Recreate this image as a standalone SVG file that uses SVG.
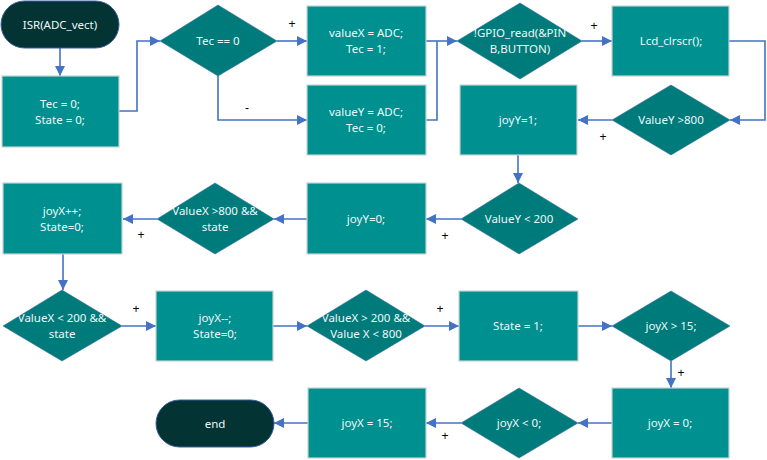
<svg xmlns="http://www.w3.org/2000/svg" width="767" height="460" viewBox="0 0 767 460">
  <defs>
    <marker id="arrow" viewBox="0 0 10 10" refX="10" refY="5" markerWidth="10" markerHeight="11" orient="auto" markerUnits="userSpaceOnUse">
      <path d="M0,0 L10,5 L0,10 z" fill="#4472C4"/>
    </marker>
    <style>
      .term { fill: #033333; stroke: #3b5fa0; stroke-width: 1; }
      .box { fill: #009090; stroke: #c6d3d3; stroke-width: 1.2; }
      .dec { fill: #007B7B; stroke: #3a6fa0; stroke-width: 0.6; }
      .t { font-family: "Noto Sans", "Open Sans", "DejaVu Sans", sans-serif; font-size: 11.5px; fill: #eef8f8; text-anchor: middle; }
      .lbl { font-family: "Liberation Sans", Arial, sans-serif; font-size: 12px; fill: #000; text-anchor: middle; }
      .conn path { fill: none; stroke: #4472C4; stroke-width: 1.6; marker-end: url(#arrow); }
      .conn path.join { marker-end: none; }
    </style>
  </defs>
  <rect width="767" height="460" fill="#ffffff"/>

  <!-- connectors -->
  <g id="connectors" class="conn">
    <path d="M60,48 V76"/>
    <path d="M119,111 H137 V41 H160"/>
    <path d="M277,41 H307"/>
    <path d="M218,76 V120 H307"/>
    <path d="M426,41 H457"/>
    <path class="join" d="M426,120 H437 V41"/>
    <path d="M582,41 H612"/>
    <path d="M729,41 H765 V120 H730"/>
    <path d="M612,120 H578"/>
    <path d="M518,155 V183"/>
    <path d="M461,219 H426"/>
    <path d="M307,219 H274"/>
    <path d="M157,219 H123"/>
    <path d="M63,254 V290"/>
    <path d="M122,326 H156"/>
    <path d="M273,326 H307"/>
    <path d="M425,326 H459"/>
    <path d="M578,326 H612"/>
    <path d="M671,361 V388"/>
    <path d="M612,423 H578"/>
    <path d="M461,423 H426"/>
    <path d="M308,423 H274"/>
  </g>

  <!-- branch labels -->
  <g id="labels">
    <text class="lbl" x="292" y="28">+</text>
    <text class="lbl" x="247" y="112">-</text>
    <text class="lbl" x="594" y="30">+</text>
    <text class="lbl" x="603" y="141">+</text>
    <text class="lbl" x="445" y="240">+</text>
    <text class="lbl" x="141" y="239">+</text>
    <text class="lbl" x="136" y="313">+</text>
    <text class="lbl" x="440" y="313">+</text>
    <text class="lbl" x="681" y="377">+</text>
    <text class="lbl" x="445" y="440">+</text>
  </g>

  <g id="isr">
    <rect class="term" x="1" y="1" width="118" height="47" rx="23.5"/>
    <text class="t" x="60" y="29">ISR(ADC_vect)</text>
  </g>

  <g id="init">
    <rect class="box" x="2" y="76" width="117" height="71"/>
    <text class="t" x="60" y="108">Tec = 0;</text>
    <text class="t" x="60" y="124">State = 0;</text>
  </g>

  <g id="tec-check">
    <polygon class="dec" points="160,41 218,5 277,41 218,76"/>
    <text class="t" x="218" y="45">Tec == 0</text>
  </g>

  <g id="read-x">
    <rect class="box" x="307" y="6" width="119" height="70"/>
    <text class="t" x="366" y="37">valueX = ADC;</text>
    <text class="t" x="366" y="53">Tec = 1;</text>
  </g>

  <g id="read-y">
    <rect class="box" x="307" y="85" width="119" height="70"/>
    <text class="t" x="366" y="116">valueY = ADC;</text>
    <text class="t" x="366" y="132">Tec = 0;</text>
  </g>

  <g id="button-check">
    <polygon class="dec" points="457,41 520,3 582,41 520,79"/>
    <text class="t" x="520" y="37">!GPIO_read(&amp;PIN</text>
    <text class="t" x="520" y="53">B,BUTTON)</text>
  </g>

  <g id="clear">
    <rect class="box" x="612" y="6" width="117" height="70"/>
    <text class="t" x="671" y="45">Lcd_clrscr();</text>
  </g>

  <g id="y-high">
    <polygon class="dec" points="612,120 671,85 730,120 671,155"/>
    <text class="t" x="671" y="124">ValueY &gt;800</text>
  </g>

  <g id="joy-y-one">
    <rect class="box" x="460" y="85" width="117" height="70"/>
    <text class="t" x="518" y="124">joyY=1;</text>
  </g>

  <g id="y-low">
    <polygon class="dec" points="461,219 519,183 578,219 519,254"/>
    <text class="t" x="519" y="223">ValueY &lt; 200</text>
  </g>

  <g id="joy-y-zero">
    <rect class="box" x="307" y="183" width="119" height="71"/>
    <text class="t" x="366" y="223">joyY=0;</text>
  </g>

  <g id="x-high">
    <polygon class="dec" points="157,219 215,183 274,219 215,254"/>
    <text class="t" x="215" y="215">ValueX &gt;800 &amp;&amp;</text>
    <text class="t" x="215" y="231">state</text>
  </g>

  <g id="joy-x-inc">
    <rect class="box" x="3" y="183" width="119" height="71"/>
    <text class="t" x="62" y="215">joyX++;</text>
    <text class="t" x="62" y="231">State=0;</text>
  </g>

  <g id="x-low">
    <polygon class="dec" points="3,326 62,290 122,326 62,361"/>
    <text class="t" x="62" y="322">ValueX &lt; 200 &amp;&amp;</text>
    <text class="t" x="62" y="338">state</text>
  </g>

  <g id="joy-x-dec">
    <rect class="box" x="156" y="291" width="117" height="70"/>
    <text class="t" x="215" y="322">joyX--;</text>
    <text class="t" x="215" y="338">State=0;</text>
  </g>

  <g id="x-mid">
    <polygon class="dec" points="307,326 366,290 425,326 366,361"/>
    <text class="t" x="366" y="322">ValueX &gt; 200 &amp;&amp;</text>
    <text class="t" x="366" y="338">Value X &lt; 800</text>
  </g>

  <g id="state-set">
    <rect class="box" x="459" y="291" width="119" height="70"/>
    <text class="t" x="518" y="330">State = 1;</text>
  </g>

  <g id="x-over">
    <polygon class="dec" points="612,326 671,291 730,326 671,361"/>
    <text class="t" x="671" y="330">joyX &gt; 15;</text>
  </g>

  <g id="joy-x-zero">
    <rect class="box" x="612" y="388" width="117" height="70"/>
    <text class="t" x="670" y="427">joyX = 0;</text>
  </g>

  <g id="x-under">
    <polygon class="dec" points="461,423 519,388 578,423 519,458"/>
    <text class="t" x="519" y="427">joyX &lt; 0;</text>
  </g>

  <g id="joy-x-max">
    <rect class="box" x="308" y="388" width="118" height="70"/>
    <text class="t" x="367" y="427">joyX = 15;</text>
  </g>

  <g id="end">
    <rect class="term" x="156" y="400" width="118" height="47" rx="23.5"/>
    <text class="t" x="215" y="428">end</text>
  </g>
</svg>
